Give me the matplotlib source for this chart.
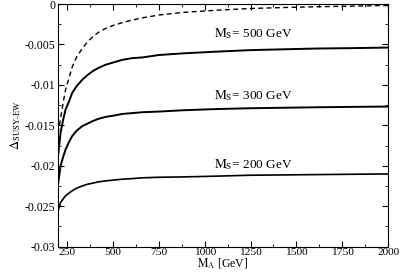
import numpy as np
import matplotlib
matplotlib.use('Agg')
import matplotlib.pyplot as plt
from matplotlib.ticker import MultipleLocator, FuncFormatter

plt.rcParams['font.family'] = 'Liberation Serif'
plt.rcParams['mathtext.fontset'] = 'stix'
plt.rcParams['axes.unicode_minus'] = False

# M_A [GeV] grid
m_a = [200, 214, 228, 241, 259, 277, 300, 332, 360, 387, 420, 460, 505, 551, 600, 660,
       751, 879, 1050, 1243, 1420, 1608, 1800, 2000]

# dashed curve
dashed = [-0.0160, -0.0141, -0.0122, -0.0106, -0.0092, -0.0078, -0.0066, -0.0055, -0.0047, -0.0041,
          -0.0035, -0.0030, -0.0026, -0.0023, -0.0020, -0.0017, -0.00135, -0.00103, -0.00078,
          -0.00055, -0.00043, -0.00033, -0.00025, -0.00017]
# M_S = 500 GeV
ms500 = [-0.0188, -0.0159, -0.0143, -0.01305, -0.0121, -0.0110, -0.0102, -0.00936, -0.0088, -0.00833,
         -0.0079, -0.0075, -0.0072, -0.0069, -0.0067, -0.0066, -0.0063, -0.0061, -0.0059,
         -0.0057, -0.0056, -0.0055, -0.00545, -0.00538]
# M_S = 300 GeV
ms300 = [-0.0223, -0.0200, -0.0189, -0.0180, -0.0171, -0.01634, -0.0157, -0.0151, -0.0148, -0.0145,
         -0.0142, -0.01396, -0.0138, -0.01359, -0.0135, -0.01338, -0.0133, -0.01314, -0.0130,
         -0.01289, -0.01283, -0.01277, -0.01272, -0.01268]
# M_S = 200 GeV
ms200 = [-0.02558, -0.02455, -0.0241, -0.02373, -0.0234, -0.02311, -0.0228, -0.0225, -0.0223, -0.02217,
         -0.0220, -0.02188, -0.02177, -0.02167, -0.0216, -0.0215, -0.02143, -0.02139, -0.0213,
         -0.02118, -0.02114, -0.0211, -0.02106, -0.02102]

labels = ['$\\mathrm{M_S}$= 500 GeV', '$\\mathrm{M_S}$= 300 GeV', '$\\mathrm{M_S}$= 200 GeV']
label_y = [-0.00406, -0.01182, -0.02032]

fig = plt.figure(figsize=(4.03, 2.73), dpi=100)
ax = fig.add_axes([0.144, 0.097, 0.819, 0.888])

ax.plot(m_a, dashed, 'k--', lw=1.0, dashes=(3.5, 2.5))
ax.plot(m_a, ms500, 'k-', lw=1.4)
ax.plot(m_a, ms300, 'k-', lw=1.4)
ax.plot(m_a, ms200, 'k-', lw=1.2)

for txt, y in zip(labels, label_y):
    ax.text(1266, y, txt, ha='center', va='baseline', fontsize=9.5)

ax.set_xlim(200, 2000)
ax.set_ylim(-0.03, 0)
ax.xaxis.set_major_locator(MultipleLocator(250))
ax.xaxis.set_minor_locator(MultipleLocator(125))
ax.yaxis.set_major_locator(MultipleLocator(0.005))
ax.yaxis.set_minor_locator(MultipleLocator(0.0025))
ax.yaxis.set_major_formatter(FuncFormatter(lambda v, p: '%g' % round(v, 4)))
ax.tick_params(which='both', direction='in', top=True, right=True, labelsize=8.5, pad=2)
ax.tick_params(axis='x', which='both', pad=1, labelsize=8.2)
ax.tick_params(which='major', length=4.3)
ax.tick_params(which='minor', length=2.2)

ax.set_xlabel('$\\mathrm{M_A}$ [GeV]', fontsize=8.5, labelpad=-0.3)
ax.set_ylabel('$\\Delta_{\\mathrm{SUSY\\text{-}EW}}$', fontsize=9, labelpad=1)

fig.savefig('out.png', dpi=100)
